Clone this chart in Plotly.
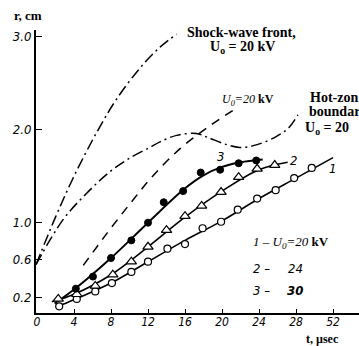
import plotly.graph_objects as go

# ---- data ----
t1 = [2.4, 4.3, 6.3, 8.1, 10.2, 12.0, 14.1, 16.0, 17.9, 19.9, 21.7, 23.8, 25.8, 27.8, 29.7]
r1 = [0.10, 0.18, 0.26, 0.35, 0.47, 0.58, 0.72, 0.77, 0.94, 1.01, 1.14, 1.26, 1.35, 1.48, 1.59]
t2 = [2.3, 4.3, 6.3, 8.2, 10.2, 12.0, 14.0, 16.0, 17.8, 19.9, 21.8, 23.8, 25.7]
r2 = [0.18, 0.23, 0.32, 0.44, 0.58, 0.74, 0.92, 1.07, 1.18, 1.33, 1.49, 1.58, 1.62]
t3 = [4.2, 6.05, 8.0, 10.2, 12.0, 13.7, 15.8, 17.7, 19.8, 21.8, 23.7]
r3 = [0.29, 0.42, 0.62, 0.81, 1.00, 1.22, 1.34, 1.54, 1.57, 1.64, 1.67]

fit1_t = [2.0, 4, 8, 12, 16, 20, 24, 28, 32]
fit1_r = [0.09, 0.17, 0.35, 0.58, 0.81, 1.02, 1.26, 1.48, 1.70]
fit2_t = [1.6, 4, 8, 12, 16, 20, 24, 27.1]
fit2_r = [0.15, 0.23, 0.44, 0.74, 1.06, 1.34, 1.57, 1.65]
fit3_t = [1.9, 4, 8, 12, 16, 18, 20, 22, 24.4]
fit3_r = [0.13, 0.28, 0.62, 1.00, 1.37, 1.51, 1.60, 1.65, 1.68]

shock_t = [-0.1, 2.0, 4.0, 6.5, 8.6, 11.1, 13.3, 15.1]
shock_r = [0.55, 1.06, 1.50, 1.98, 2.33, 2.66, 2.89, 3.03]

hot_t = [-0.1, 2.8, 5.4, 7.9, 10.1, 12.2, 13.3, 15.1, 17.2, 18.4, 20.5, 21.9, 23.8, 25.9, 27.2, 28.2]
hot_r = [0.55, 1.03, 1.32, 1.55, 1.70, 1.81, 1.87, 1.94, 1.96, 1.92, 1.84, 1.81, 1.84, 1.93, 2.02, 2.16]

dash_t = [5.0, 7.6, 10.1, 12.5, 15.5, 18.5, 21.2]
dash_r = [0.54, 0.89, 1.21, 1.50, 1.80, 2.03, 2.21]

x_ticks = [0, 4, 8, 12, 16, 20, 24, 28, 32]
x_labels = ["0", "4", "8", "12", "16", "20", "24", "28", "52"]
y_ticks = [0.2, 0.6, 1.0, 2.0, 3.0]
y_labels = ["0.2", "0.6", "1.0", "2.0", "3.0"]

NUM = "Liberation Sans Narrow, DejaVu Sans Condensed, Arial Narrow, sans-serif"
SER = "Liberation Serif, Times New Roman, serif"

W, H = 359, 346
ML, MR, MT, MB = 36, 0, 30, 33
PW, PH = W - ML - MR, H - MT - MB

fig = go.Figure()

def line(t, r, dash="solid", w=1.6):
    fig.add_trace(go.Scatter(x=t, y=r, mode="lines", line=dict(color="black", width=w, dash=dash, shape="spline"),
                             hoverinfo="skip", showlegend=False))

line(fit1_t, fit1_r)
line(fit2_t, fit2_r)
line(fit3_t, fit3_r, w=1.9)
line(shock_t, shock_r, dash="11px,4px,2px,4px", w=1.5)
line(hot_t, hot_r, dash="11px,4px,2px,4px", w=1.5)
line(dash_t, dash_r, dash="9px,7px", w=1.5)

fig.add_trace(go.Scatter(x=t1, y=r1, mode="markers", showlegend=False,
                         marker=dict(symbol="circle", size=7, color="white", line=dict(color="black", width=1.2))))
fig.add_trace(go.Scatter(x=t2, y=r2, mode="markers", showlegend=False,
                         marker=dict(symbol="triangle-up", size=9, color="white", line=dict(color="black", width=1.2))))
fig.add_trace(go.Scatter(x=t3, y=r3, mode="markers", showlegend=False,
                         marker=dict(symbol="circle", size=7, color="black", line=dict(color="black", width=1))))

ann = []
def A(px, py, text, fam=SER, size=13, style="normal", weight="bold", xanchor="center"):
    ann.append(dict(x=(px - ML) / PW, y=(H - MB - py) / PH, xref="paper", yref="paper", text=text,
                    showarrow=False, xanchor=xanchor, yanchor="middle",
                    font=dict(family=fam, size=size, color="black", style=style, weight=weight)))

IT = "<span style='font-family:Liberation Sans Narrow;font-style:italic;font-weight:normal'>"
A(28, 15, "r, cm", size=13)
A(241, 32, "Shock-wave front,", size=14)
A(242, 47, "U<sub>o</sub> = 20 kV", size=14)
A(248, 100, IT + "U<sub>0</sub>=20</span> kV", size=12)
A(308, 97, "Hot-zon", size=14, xanchor="left")
A(307, 112, "boundar", size=14, xanchor="left")
A(303, 128, "U<sub>o</sub> = 20", size=14, xanchor="left")
A(220, 156, "3", fam=NUM, size=13, style="italic", weight="normal")
A(293, 160, "2", fam=NUM, size=13, style="italic", weight="normal")
A(332, 168, "1", fam=NUM, size=13, style="italic", weight="normal")
A(251, 242, IT + "1 – U<sub>0</sub>=20</span> kV", size=13, xanchor="left")
A(251, 268, "2 –", fam=NUM, size=13, style="italic", weight="normal", xanchor="left")
A(295, 268, "24", fam=NUM, size=13, style="italic", weight="normal")
A(251, 290, "3 –", fam=NUM, size=13, style="italic", weight="normal", xanchor="left")
A(295, 290, "30", fam=NUM, size=13, style="italic", weight="bold")
A(322, 339, "t, µsec", size=12)

fig.update_layout(
    width=W, height=H, margin=dict(l=ML, r=MR, t=MT, b=MB),
    paper_bgcolor="white", plot_bgcolor="white", annotations=ann,
    xaxis=dict(range=[-0.108, 34.81], tickvals=x_ticks, ticktext=x_labels, ticks="inside", ticklen=4,
               tickwidth=1.2, tickcolor="black", showline=True, linecolor="black", linewidth=1.6,
               showgrid=False, zeroline=False, fixedrange=True, ticklabelstandoff=-3,
               tickfont=dict(family=NUM, size=12, color="black", style="italic")),
    yaxis=dict(range=[0.028, 3.074], tickvals=y_ticks, ticktext=y_labels, ticks="inside", ticklen=6,
               tickwidth=1.2, tickcolor="black", showline=True, linecolor="black", linewidth=2,
               showgrid=False, zeroline=False, fixedrange=True,
               tickfont=dict(family=NUM, size=13, color="black", style="italic")),
)

fig.write_html("out.html")
